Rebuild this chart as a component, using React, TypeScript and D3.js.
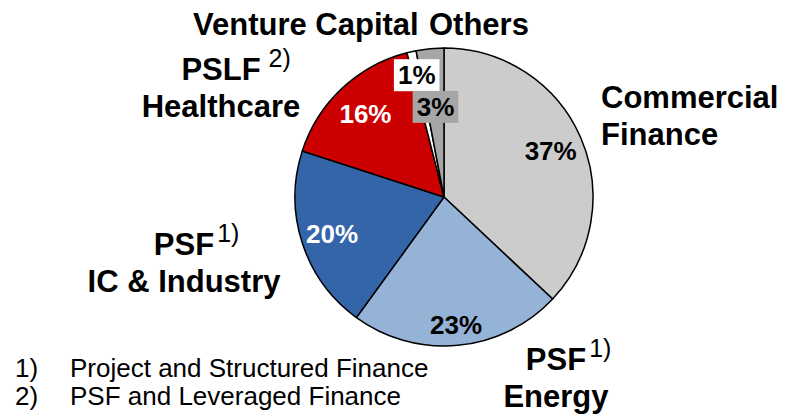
import React, { useRef, useEffect } from 'react';
import * as d3 from 'd3';

// slices, clockwise from 12 o'clock
const segments = ['Commercial Finance', 'PSF Energy', 'PSF IC & Industry', 'PSLF Healthcare', 'Venture Capital', 'Others'];
const shares = [37, 23, 20, 16, 1, 3];
const footnoteMarks = ['1)', '2)'];
const footnoteTexts = ['Project and Structured Finance', 'PSF and Leveraged Finance'];

const colors = ['#cccccc', '#95b3d7', '#3465a9', '#cc0000', '#ffffff', '#a6a6a6'];
const pctColors = ['#000', '#000', '#fff', '#fff', '#000', '#000'];
const pctRadius = [0.78, 0.86, 0.79, 0.77, 0.84, 0.61];
const pctBoxes = [null, null, null, null, '#ffffff', '#a6a6a6'];

// category name blocks (lines, x, first baseline, superscript, anchor)
const nameBlocks = [
  { lines: ['Commercial', 'Finance'], x: 601, y: 108, sup: null, gap: 0, anchor: 'start' },
  { lines: ['PSF', 'Energy'], x: 556, y: 370, sup: '1)', gap: 3, anchor: 'middle' },
  { lines: ['PSF', 'IC & Industry'], x: 184, y: 255, sup: '1)', gap: 3, anchor: 'middle' },
  { lines: ['PSLF', 'Healthcare'], x: 221, y: 80, sup: '2)', gap: 8, anchor: 'middle' },
  { lines: ['Venture Capital'], x: 193, y: 35, sup: null, gap: 0, anchor: 'start' },
  { lines: ['Others'], x: 429, y: 35, sup: null, gap: 0, anchor: 'start' },
];

const W = 786;
const H = 416;
const font = '"Liberation Sans", Arial, sans-serif';

const PieChart = () => {
  const ref = useRef<SVGSVGElement>(null);

  useEffect(() => {
    const svg = d3.select(ref.current);
    svg.selectAll('*').remove();

    const cx = 444, cy = 197, r = 149;
    const data = segments.map((name, i) => ({ name, value: shares[i], i }));

    const pie = d3.pie<any>().sort(null).value(d => d.value);
    const arcs = pie(data);
    const arc = d3.arc<any>().innerRadius(0).outerRadius(r);

    const g = svg.append('g').attr('transform', `translate(${cx},${cy})`);

    g.selectAll('path')
      .data(arcs)
      .enter()
      .append('path')
      .attr('d', arc)
      .attr('fill', d => colors[d.data.i])
      .attr('stroke', '#000')
      .attr('stroke-width', 1.5)
      .attr('stroke-linejoin', 'round');

    // percentage labels
    arcs.forEach(d => {
      const i = d.data.i;
      const lr = r * pctRadius[i];
      const pos = d3.arc<any>().innerRadius(lr).outerRadius(lr).centroid(d);
      const lg = g.append('g').attr('transform', `translate(${pos[0]},${pos[1]})`);
      const t = lg.append('text')
        .attr('text-anchor', 'middle')
        .attr('dy', '0.36em')
        .attr('font-family', font)
        .attr('font-weight', 'bold')
        .attr('font-size', 26)
        .attr('fill', pctColors[i])
        .text(`${d.data.value}%`);
      if (pctBoxes[i]) {
        const bb = (t.node() as SVGTextElement).getBBox();
        lg.insert('rect', 'text')
          .attr('x', bb.x - 4)
          .attr('y', bb.y - 1)
          .attr('width', bb.width + 8)
          .attr('height', bb.height + 2)
          .attr('fill', pctBoxes[i]);
      }
    });

    // category names
    nameBlocks.forEach(b => {
      b.lines.forEach((line, li) => {
        const t = svg.append('text')
          .attr('x', b.x)
          .attr('y', b.y + li * 37)
          .attr('text-anchor', b.anchor)
          .attr('font-family', font)
          .attr('font-weight', 'bold')
          .attr('font-size', 31)
          .attr('fill', '#000')
          .text(line);
        if (li === 0 && b.sup) {
          const w = (t.node() as SVGTextElement).getComputedTextLength();
          svg.append('text')
            .attr('x', b.x + w / 2 + b.gap)
            .attr('y', b.y - 13)
            .attr('font-family', font)
            .attr('font-size', 25)
            .attr('fill', '#000')
            .text(b.sup);
        }
      });
    });

    // footnotes
    footnoteMarks.forEach((m, i) => {
      svg.append('text')
        .attr('x', 15)
        .attr('y', 377 + i * 28)
        .attr('font-family', font)
        .attr('font-size', 26)
        .attr('fill', '#000')
        .text(m);
      svg.append('text')
        .attr('x', 70)
        .attr('y', 377 + i * 28)
        .attr('font-family', font)
        .attr('font-size', 26)
        .attr('fill', '#000')
        .text(footnoteTexts[i]);
    });
  }, []);

  return (
    <svg
      ref={ref}
      width={W}
      height={H}
      viewBox={`0 0 ${W} ${H}`}
      style={{ position: 'absolute', left: 0, top: 0, background: '#fff' }}
    />
  );
};

export default function App() {
  return <PieChart />;
}
